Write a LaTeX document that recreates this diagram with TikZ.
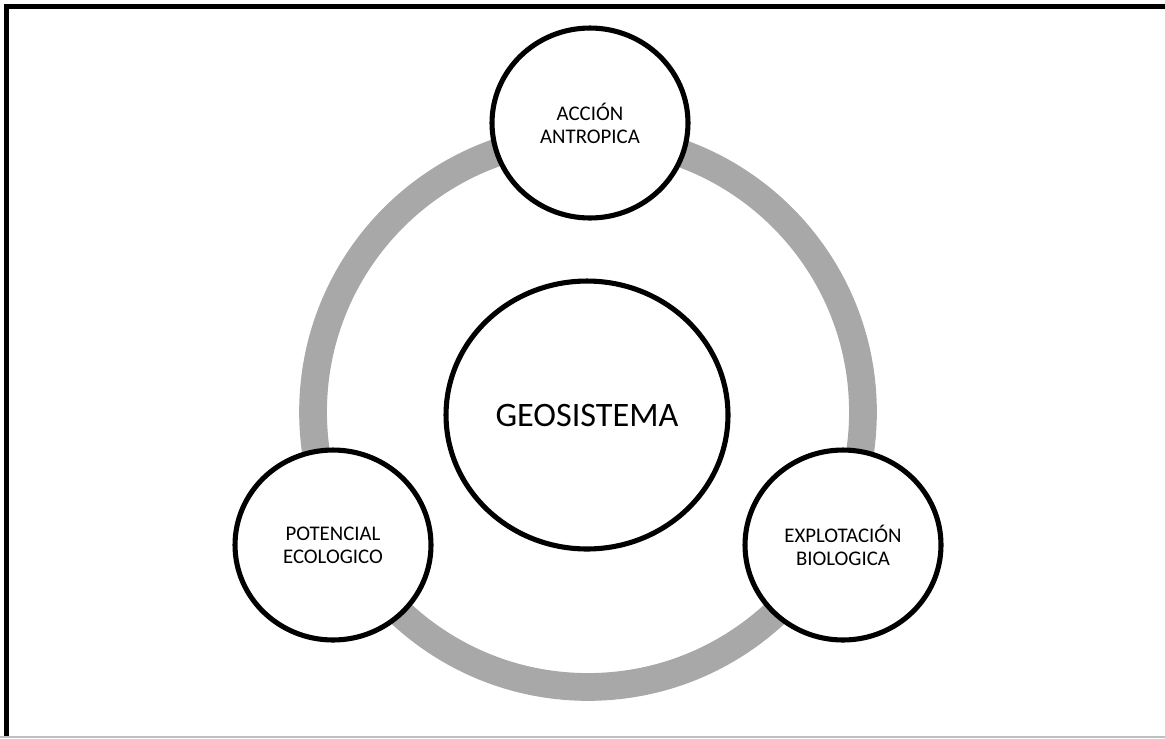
\documentclass[tikz,border=0pt]{standalone}
\usepackage{fontspec}
\setmainfont{Carlito}
\usetikzlibrary{shapes.geometric}

\definecolor{ringgray}{RGB}{168,168,168}

\tikzset{
  part/.style={draw, ellipse, fill=white, line width=2.9pt, align=center,
    minimum width=3.92cm, minimum height=3.8cm,
    font=\fontsize{11.85}{13.2}\selectfont},
  core/.style={part, minimum width=5.64cm, minimum height=5.36cm,
    font=\fontsize{19.5}{23}\selectfont},
}

\begin{document}
\begin{tikzpicture}[x=0.02cm, y=-0.02cm]
\useasboundingbox (0,0) rectangle (1165,738);

% frame
\draw[line width=3.1pt] (6.5,738) -- (6.5,6.5) -- (1165,6.5);
\draw[black!25, line width=0.8pt] (0,737) -- (1165,737);

% ring
\coordinate (mid) at (588,412);
\draw[ringgray, line width=15.8pt] (mid) circle [radius=5.5cm];

\node[core] (geo) at (587,415) {GEOSISTEMA};

\node[part] (accion) at (590,123) {ACCIÓN\\ANTROPICA};
\node[part] (potencial) at (333,545) {POTENCIAL\\ECOLOGICO};
\node[part] (explot) at (843,545) {EXPLOTACIÓN\\BIOLOGICA};
\end{tikzpicture}
\end{document}
